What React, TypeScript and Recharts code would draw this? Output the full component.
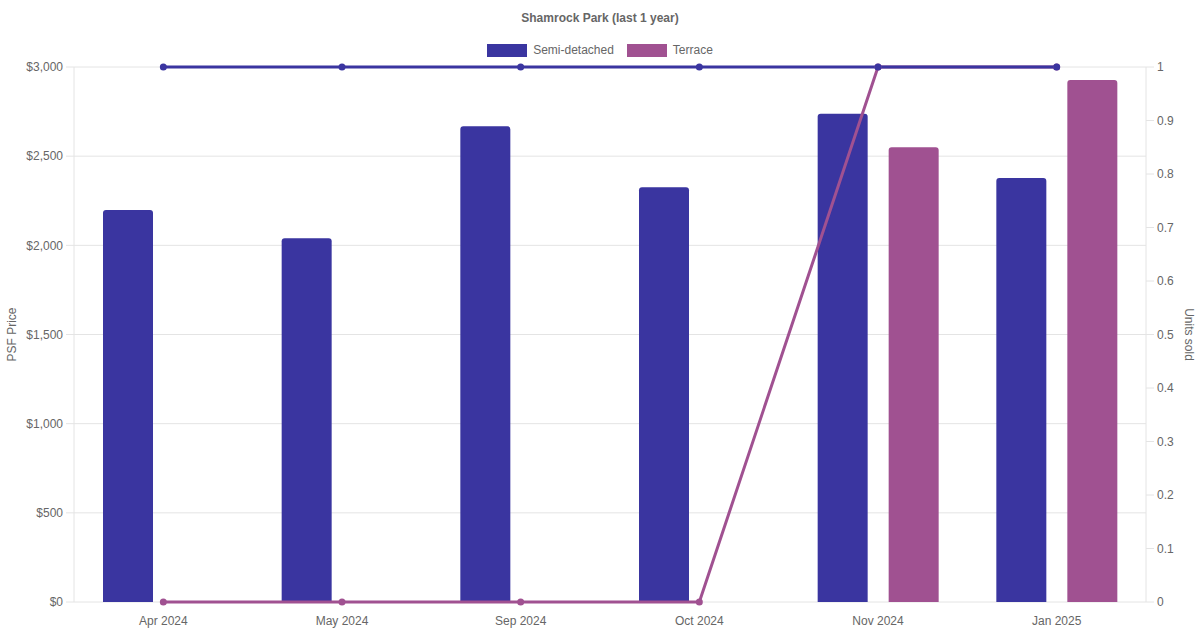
import React from "react";
import {
  ComposedChart,
  Bar,
  Line,
  XAxis,
  YAxis,
  CartesianGrid,
} from "recharts";

const months = ["Apr 2024", "May 2024", "Sep 2024", "Oct 2024", "Nov 2024", "Jan 2025"];
const semiPsf = [2198, 2040, 2668, 2326, 2738, 2378];
const terracePsf: (number | null)[] = [null, null, null, null, 2550, 2927];
const semiUnits = [1, 1, 1, 1, 1, 1];
const terraceUnits = [0, 0, 0, 0, 1, 1];
const psfTicks = [0, 500, 1000, 1500, 2000, 2500, 3000];
const unitTicks = [0, 0.1, 0.2, 0.3, 0.4, 0.5, 0.6, 0.7, 0.8, 0.9, 1];

const SEMI = "#3a35a0";
const TERRACE = "#a05191";
const TEXT = "#666";
const GRID = "#e4e4e4";
const FONT = "'Liberation Sans', Arial, Helvetica, sans-serif";

const data = months.map((m, i) => ({
  month: m,
  semiPsf: semiPsf[i],
  terracePsf: terracePsf[i],
  semiUnits: semiUnits[i],
  terraceUnits: terraceUnits[i],
}));

function money(v: number): string {
  const s = String(v).replace(/\B(?=(\d{3})+(?!\d))/g, ",");
  return "$" + s;
}

function LegendItem({ color, label, gap }: { color: string; label: string; gap: number }) {
  return (
    <span style={{ display: "inline-flex", alignItems: "center", marginLeft: gap }}>
      <span style={{ width: 40, height: 13, background: color, display: "inline-block", marginRight: 6 }} />
      <span style={{ fontSize: 12, color: TEXT }}>{label}</span>
    </span>
  );
}

export default function App() {
  return (
    <div style={{ position: "relative", width: 1200, height: 630, fontFamily: FONT, background: "#fff" }}>
      <style>{"body{margin:0}"}</style>
      <div
        style={{
          position: "absolute",
          top: 11,
          left: 0,
          width: 1200,
          textAlign: "center",
          fontSize: 12,
          fontWeight: "bold",
          color: TEXT,
        }}
      >
        Shamrock Park (last 1 year)
      </div>
      <div
        style={{
          position: "absolute",
          top: 43,
          left: 0,
          width: 1200,
          display: "flex",
          justifyContent: "center",
        }}
      >
        <LegendItem color={SEMI} label="Semi-detached" gap={0} />
        <LegendItem color={TERRACE} label="Terrace" gap={13} />
      </div>
      <ComposedChart
        width={1200}
        height={630}
        data={data}
        margin={{ top: 67, right: 14, bottom: 8, left: 14 }}
        barGap={21}
        barCategoryGap="10%"
      >
        <CartesianGrid vertical={false} stroke={GRID} yAxisId="psf" />
        <XAxis
          dataKey="month"
          tickLine={false}
          axisLine={false}
          tick={{ fontSize: 12, fill: TEXT, fontFamily: FONT }}
          tickMargin={8}
          height={20}
        />
        <YAxis
          yAxisId="psf"
          orientation="left"
          domain={[0, 3000]}
          ticks={psfTicks}
          tickFormatter={money}
          width={60}
          tickSize={8}
          tickMargin={3}
          stroke={GRID}
          tick={{ fontSize: 12, fill: TEXT, fontFamily: FONT }}
          label={{
            value: "PSF Price",
            angle: -90,
            position: "insideLeft",
            offset: -2,
            style: { fontSize: 12, fill: TEXT, fontFamily: FONT, textAnchor: "middle" },
          }}
        />
        <YAxis
          yAxisId="units"
          orientation="right"
          domain={[0, 1]}
          ticks={unitTicks}
          width={40}
          tickSize={8}
          tickMargin={3}
          stroke={GRID}
          tick={{ fontSize: 12, fill: TEXT, fontFamily: FONT }}
          label={{
            value: "Units sold",
            angle: 90,
            position: "insideRight",
            offset: -3,
            style: { fontSize: 12, fill: TEXT, fontFamily: FONT, textAnchor: "middle" },
          }}
        />
        <Bar
          yAxisId="psf"
          dataKey="semiPsf"
          name="Semi-detached"
          fill={SEMI}
          barSize={50}
          radius={[3, 3, 0, 0]}
          isAnimationActive={false}
        />
        <Bar
          yAxisId="psf"
          dataKey="terracePsf"
          name="Terrace"
          fill={TERRACE}
          barSize={50}
          radius={[3, 3, 0, 0]}
          isAnimationActive={false}
        />
        <Line
          yAxisId="units"
          dataKey="terraceUnits"
          stroke={TERRACE}
          strokeWidth={3}
          dot={{ r: 3.5, fill: TERRACE, stroke: TERRACE, strokeWidth: 0 }}
          activeDot={false}
          isAnimationActive={false}
          type="linear"
        />
        <Line
          yAxisId="units"
          dataKey="semiUnits"
          stroke={SEMI}
          strokeWidth={3}
          dot={{ r: 3.5, fill: SEMI, stroke: SEMI, strokeWidth: 0 }}
          activeDot={false}
          isAnimationActive={false}
          type="linear"
        />
      </ComposedChart>
    </div>
  );
}
